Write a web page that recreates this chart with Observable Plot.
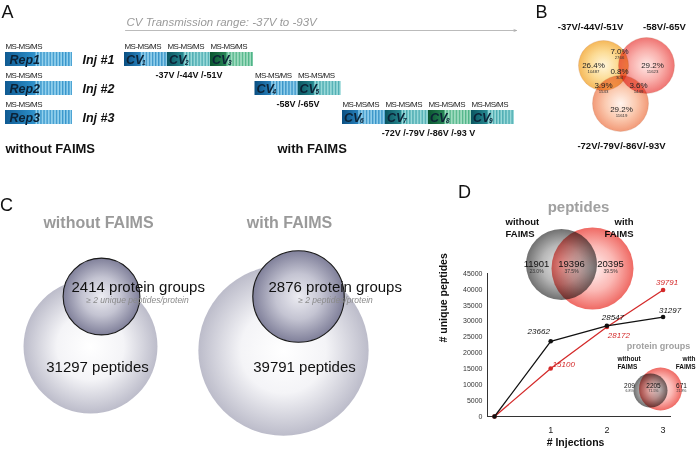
<!DOCTYPE html>
<html>
<head>
<meta charset="utf-8">
<script src="https://cdn.jsdelivr.net/npm/d3@7"></script>
<script src="https://cdn.jsdelivr.net/npm/@observablehq/plot@0.6"></script>
<style>
html,body{margin:0;padding:0;background:#fff;}
#fig{position:relative;width:696px;height:450px;overflow:hidden;background:#fff;}
#fig > svg{position:absolute;overflow:visible;}
</style>
</head>
<body>
<div id="fig"></div>
<script>
// ---------------- data ----------------
const panelLetters = ["A", "B", "C", "D"];
const replicates = ["Rep1", "Rep2", "Rep3"];
const injectionLabels = ["Inj #1", "Inj #2", "Inj #3"];
const cvCountPerInjection = [3, 2, 4];
const cvVoltageLabels = ["-37V /-44V /-51V", "-58V /-65V", "-72V /-79V /-86V /-93 V"];
const scanLabel = "MS-MS/MS";
const cvRangeLabel = "CV Transmission range: -37V to -93V";
const modeLabels = ["without FAIMS", "with FAIMS"];

const cvSetLabels = ["-37V/-44V/-51V", "-58V/-65V", "-72V/-79V/-86V/-93V"];
const cvRegions = ["A", "B", "C", "AB", "AC", "BC", "ABC"];
const cvRegionPercent = ["26.4%", "29.2%", "29.2%", "7.0%", "3.9%", "3.6%", "0.8%"];
const cvRegionCount = [10487, 11623, 11619, 2766, 1543, 1449, 304];

const proteinGroups = [2414, 2876];
const peptideTotals = [31297, 39791];
const proteinCriteria = ["≥ 2 unique peptides/protein", "≥ 2 peptides/protein"];

const injections = [0, 1, 2, 3];
const peptidesWithoutFAIMS = [0, 23662, 28547, 31297];
const peptidesWithFAIMS = [0, 15100, 28172, 39791];
const yTickValues = [0, 5000, 10000, 15000, 20000, 25000, 30000, 35000, 40000, 45000];
const xTickValues = [1, 2, 3];
const xAxisTitle = "# Injections";
const yAxisTitle = "# unique peptides";
const peptideOverlap = [11901, 19396, 20395];
const peptideOverlapPercent = ["23.0%", "37.5%", "39.5%"];
const proteinOverlap = [209, 2205, 671];
const proteinOverlapPercent = ["6.8%", "71.5%", "21.8%"];

// ---------------- layout / style ----------------
const FF = "'Liberation Sans', Arial, Helvetica, sans-serif";
const W = 696, H = 450;
const rowTop = [52, 81, 110], rowH = 14;
const pal = {
  rep:   {dark: "#0f5a92", mid: "#2b8cc6", light: "#92d0ec", line: "#3896cc"},
  blue:  {dark: "#0a4f82", mid: "#2a84bf", light: "#8fcdea", line: "#3b95c8"},
  teal:  {dark: "#0a5560", mid: "#2a8c94", light: "#98d8d8", line: "#4aaab0"},
  green: {dark: "#0a5530", mid: "#2a8858", light: "#a0dcc0", line: "#50b488"}
};
const cvPalByPos = ["blue", "teal", "green", "teal"];

const blocks = [];
replicates.forEach((r, i) => blocks.push({kind: "rep", label: r, sub: "", pal: "rep", x1: 5, x2: 72, row: i, split: 0.45}));
let nCV = 0;
const injSpan = [];
cvCountPerInjection.forEach((c, i) => {
  const start = 124 + nCV * 43 + i * 1.5;
  for (let j = 0; j < c; j++) {
    const x1 = 124 + nCV * 43 + i * 1.5;
    blocks.push({kind: "cv", label: "CV", sub: String(nCV + 1), pal: cvPalByPos[j], x1, x2: x1 + 43, row: i, split: 0.38});
    nCV++;
  }
  injSpan.push({x1: start, x2: start + c * 43, row: i});
});
blocks.forEach(b => { b.y1 = rowTop[b.row]; b.y2 = b.y1 + rowH; b.xs = b.x1 + (b.x2 - b.x1) * b.split; b.cy = b.y1 + rowH / 2; });

const txt = (data, o) => Plot.text(data, {fontFamily: FF, ...o});

// Panel B circles
const vennB = [
  {x: 603, y: 65, r: 25, g: "gY"},
  {x: 646, y: 65, r: 28, g: "gR"},
  {x: 620, y: 103, r: 28, g: "gO"}
];
const vennBText = {
  A: [593, 65], B: [652, 65], C: [621, 109], AB: [619, 51], AC: [603, 85], BC: [638, 85], ABC: [619, 71]
};
const vennBLabelPos = [[590, 26], [664, 26], [621, 145]];

// Panel C circles (radius proportional to value)
const cCenters = [{big: [90, 346], small: [101, 296], title: 98}, {big: [283, 350], small: [298, 296], title: 289}];
const bigCircles = peptideTotals.map((v, i) => ({x: cCenters[i].big[0], y: cCenters[i].big[1], r: v * 0.00214}));
const smallCircles = proteinGroups.map((v, i) => ({x: cCenters[i].small[0], y: cCenters[i].small[1], r: v * 0.0159}));

// Panel D venns
const pepVenn = [{x: 561, y: 264, r: 35.5, g: "gGray"}, {x: 592, y: 268, r: 41, g: "gPink"}];
const pepTextX = [536, 571, 610];
const protVenn = [{x: 650, y: 390, r: 17, g: "gGray"}, {x: 660, y: 388.5, r: 21.5, g: "gPink"}];
const protTextX = [629, 653, 681];

const letterPos = [[7, 12], [541, 12], [6, 205], [464, 192]];

const marks = [
  txt(panelLetters, {x: (d, i) => letterPos[i][0], y: (d, i) => letterPos[i][1], text: d => d, fontSize: 18, fill: "#111"}),
  // ---- Panel A ----
  Plot.arrow([cvRangeLabel], {x1: () => 125, y1: () => 30, x2: () => 516, y2: () => 30, stroke: "#aaa", strokeWidth: 0.8, headLength: 5, headAngle: 40}),
  txt([cvRangeLabel], {x: () => 126, y: () => 22, text: d => d, textAnchor: "start", fontStyle: "italic", fontSize: 11.5, fill: "#9a9a9a"}),
  ...Object.keys(pal).map(p => Plot.rect(blocks.filter(b => b.pal === p), {x1: "x1", x2: "x2", y1: "y1", y2: "y2", fill: `url(#grad-${p})`})),
  ...Object.keys(pal).map(p => Plot.rect(blocks.filter(b => b.pal === p), {x1: "xs", x2: "x2", y1: "y1", y2: "y2", fill: `url(#stripe-${p})`})),
  txt(blocks.filter(b => b.kind === "rep"), {x: d => d.x1 + 4, y: "cy", text: "label", textAnchor: "start", fontWeight: "bold", fontStyle: "italic", fontSize: 12.5, fill: "#0c2236"}),
  txt(blocks.filter(b => b.kind === "cv"), {x: d => d.x1 + 1.5, y: "cy", text: "label", textAnchor: "start", fontWeight: "bold", fontStyle: "italic", fontSize: 12.5, fill: "#0c2236"}),
  txt(blocks.filter(b => b.kind === "cv"), {x: d => d.x1 + 17.5, y: d => d.cy + 3.5, text: "sub", textAnchor: "start", fontWeight: "bold", fontStyle: "italic", fontSize: 6.5, fill: "#0c2236"}),
  txt(blocks, {x: "x1", y: d => d.y1 - 6, text: () => scanLabel, textAnchor: "start", fontSize: 8, fill: "#222"}),
  txt(injectionLabels, {x: () => 82, y: (d, i) => rowTop[i] + 7.5, text: d => d, textAnchor: "start", fontWeight: "bold", fontStyle: "italic", fontSize: 12.5, fill: "#111"}),
  txt(cvVoltageLabels, {x: (d, i) => (injSpan[i].x1 + injSpan[i].x2) / 2, y: (d, i) => rowTop[i] + rowH + 9, text: d => d, fontWeight: "bold", fontSize: 9, fill: "#111"}),
  txt(modeLabels, {x: (d, i) => [5, 277][i], y: () => 148, text: d => d, textAnchor: "start", fontWeight: "bold", fontSize: 13, fill: "#111"}),
  // ---- Panel B ----
  ...vennB.map(c => Plot.dot([c], {x: "x", y: "y", r: "r", fill: `url(#${c.g})`, stroke: "#c08060", strokeWidth: 0.4, strokeOpacity: 0.6, mixBlendMode: "multiply"})),
  txt(cvSetLabels, {x: (d, i) => vennBLabelPos[i][0], y: (d, i) => vennBLabelPos[i][1], text: d => d, fontWeight: "bold", fontSize: 9.5, fill: "#111"}),
  txt(cvRegions, {x: d => vennBText[d][0], y: d => vennBText[d][1], text: (d, i) => cvRegionPercent[i], fontSize: 8, fill: "#222"}),
  txt(cvRegions, {x: d => vennBText[d][0], y: d => vennBText[d][1] + 6.2, text: (d, i) => String(cvRegionCount[i]), fontSize: 4.3, fill: "#333"}),
  // ---- Panel C ----
  txt(modeLabels, {x: (d, i) => cCenters[i].title, y: () => 222, text: d => d, fontWeight: "bold", fontSize: 16, fill: "#9a9a9a"}),
  Plot.dot(bigCircles, {x: "x", y: "y", r: "r", fill: "url(#gBig)"}),
  Plot.dot(smallCircles, {x: "x", y: "y", r: "r", fill: "url(#gSmall)", stroke: "#1a1a1a", strokeWidth: 1.1}),
  txt(proteinGroups, {x: (d, i) => cCenters[i].small[0] - 30, y: () => 287, text: d => `${d} protein groups`, textAnchor: "start", fontSize: 15, fill: "#111"}),
  txt(proteinCriteria, {x: (d, i) => [137, 335][i], y: () => 300, text: d => d, fontStyle: "italic", fontSize: 8.5, fill: "#8a8a8a"}),
  txt(peptideTotals, {x: (d, i) => [97, 304][i], y: () => 367, text: d => `${d} peptides`, fontSize: 15, fill: "#111"}),
  // ---- Panel D venns ----
  txt(["peptides"], {x: () => 578, y: () => 207, text: d => d, fontWeight: "bold", fontSize: 15, fill: "#a0a0a0"}),
  txt([modeLabels[0]], {x: () => 505, y: () => 226.5, text: d => d.replace(" ", "\n"), textAnchor: "start", lineHeight: 1.3, fontWeight: "bold", fontSize: 9.5, fill: "#111"}),
  txt([modeLabels[1]], {x: () => 633, y: () => 226.5, text: d => d.replace(" ", "\n"), textAnchor: "end", lineHeight: 1.3, fontWeight: "bold", fontSize: 9.5, fill: "#111"}),
  ...pepVenn.map(c => Plot.dot([c], {x: "x", y: "y", r: "r", fill: `url(#${c.g})`, mixBlendMode: "multiply"})),
  txt(peptideOverlap, {x: (d, i) => pepTextX[i], y: () => 263, text: d => String(d), fontSize: 9.5, fill: "#111"}),
  txt(peptideOverlapPercent, {x: (d, i) => pepTextX[i], y: () => 270.5, text: d => d, fontSize: 5, fill: "#333"}),
  txt(["protein groups"], {x: () => 658, y: () => 346, text: d => d, fontWeight: "bold", fontSize: 9, fill: "#a0a0a0"}),
  txt([modeLabels[0]], {x: () => 617, y: () => 362, text: d => d.replace(" ", "\n"), textAnchor: "start", lineHeight: 1.25, fontWeight: "bold", fontSize: 6.5, fill: "#111"}),
  txt([modeLabels[1]], {x: () => 695, y: () => 362, text: d => d.replace(" ", "\n"), textAnchor: "end", lineHeight: 1.25, fontWeight: "bold", fontSize: 6.5, fill: "#111"}),
  ...protVenn.map(c => Plot.dot([c], {x: "x", y: "y", r: "r", fill: `url(#${c.g})`, mixBlendMode: "multiply"})),
  txt(proteinOverlap, {x: (d, i) => protTextX[i], y: () => 385, text: d => String(d), fontSize: 6.5, fill: "#111"}),
  txt(proteinOverlapPercent, {x: (d, i) => protTextX[i], y: () => 390.5, text: d => d, fontSize: 3.5, fill: "#333"})
];

const base = Plot.plot({
  width: W, height: H, margin: 0,
  x: {type: "identity", axis: null},
  y: {type: "identity", axis: null},
  r: {type: "identity"},
  style: {fontFamily: FF, background: "transparent"},
  marks
});

// gradients and patterns
const defs = d3.select(base).insert("defs", ":first-child");
function linear(id, stops) {
  const g = defs.append("linearGradient").attr("id", id).attr("x1", 0).attr("x2", 1).attr("y1", 0).attr("y2", 0);
  stops.forEach(([o, c]) => g.append("stop").attr("offset", o).attr("stop-color", c));
}
function radial(id, stops, cx = "50%", cy = "50%") {
  const g = defs.append("radialGradient").attr("id", id).attr("cx", cx).attr("cy", cy).attr("r", "50%");
  stops.forEach(([o, c, op]) => g.append("stop").attr("offset", o).attr("stop-color", c).attr("stop-opacity", op ?? 1));
}
Object.entries(pal).forEach(([k, p]) => {
  linear(`grad-${k}`, [[0, p.dark], [0.4, p.mid], [1, p.light]]);
  const pt = defs.append("pattern").attr("id", `stripe-${k}`).attr("patternUnits", "userSpaceOnUse").attr("width", 3.1).attr("height", 20);
  pt.append("rect").attr("width", 3.1).attr("height", 20).attr("fill", p.light);
  pt.append("rect").attr("width", 1.3).attr("height", 20).attr("fill", p.line);
});
radial("gY", [[0, "#fff6dc"], [0.55, "#fcdc96"], [1, "#f5b85a"]]);
radial("gR", [[0, "#ffe8e6"], [0.55, "#f9b0ac"], [1, "#ef7472"]]);
radial("gO", [[0, "#fff4ee"], [0.55, "#fbcab0"], [1, "#f29a78"]]);
radial("gBig", [[0, "#ffffff"], [0.5, "#f4f4f7"], [1, "#bcbcca"]]);
radial("gSmall", [[0, "#ececf2"], [0.5, "#c4c4d2"], [1, "#80809a"]]);
radial("gGray", [[0, "#e8e8e8"], [0.55, "#b8b8b8"], [1, "#707070"]]);
radial("gPink", [[0, "#fff2f2"], [0.55, "#fbb8b4"], [1, "#ef6a64"]]);

d3.select(base).selectAll("text").filter(function () { return this.textContent === scanLabel; })
  .attr("letter-spacing", "-0.55");

// ---------------- Panel D line chart ----------------
const xDomain = [-0.125, 3.15];
const yDomain = [0, 45000];
const pts = [
  ...injections.map((x, i) => ({series: "without", x, y: peptidesWithoutFAIMS[i]})),
  ...injections.map((x, i) => ({series: "with", x, y: peptidesWithFAIMS[i]}))
];
const lineColor = {without: "#111111", with: "#d42a2a"};
const labelOffset = {
  without: [null, [-12, -10], [6, -8.5], [7, -7]],
  with: [null, [13, -4], [12, 8], [4, -8]]
};
const labelMarks = pts.filter(p => p.x > 0).map(p => Plot.text([p], {
  x: "x", y: "y", text: d => String(d.y), dx: labelOffset[p.series][p.x][0], dy: labelOffset[p.series][p.x][1],
  fontFamily: FF, fontStyle: "italic", fontSize: 8, fill: lineColor[p.series]
}));

const chart = Plot.plot({
  width: 256, height: 188,
  marginLeft: 47, marginRight: 25, marginTop: 11, marginBottom: 34,
  x: {domain: xDomain, axis: null},
  y: {domain: yDomain, axis: null},
  style: {fontFamily: FF, background: "transparent", overflow: "visible"},
  marks: [
    Plot.ruleY([yDomain[0]], {x1: () => xDomain[0], x2: () => xDomain[1], stroke: "#333", strokeWidth: 1}),
    Plot.ruleX([xDomain[0]], {y1: () => yDomain[0], y2: () => yDomain[1], stroke: "#333", strokeWidth: 1}),
    Plot.axisY(yTickValues, {tickSize: 0, tickPadding: 5, tickFormat: d3.format("d"), fontSize: 7, label: null, fill: "#333"}),
    Plot.axisX(xTickValues, {tickSize: 0, tickPadding: 10, fontSize: 9, label: null, fill: "#222"}),
    Plot.line(pts.filter(p => p.series === "with"), {x: "x", y: "y", stroke: lineColor.with, strokeWidth: 1.3}),
    Plot.dot(pts.filter(p => p.series === "with"), {x: "x", y: "y", r: 2.3, fill: lineColor.with}),
    Plot.line(pts.filter(p => p.series === "without"), {x: "x", y: "y", stroke: lineColor.without, strokeWidth: 1.3}),
    Plot.dot(pts.filter(p => p.series === "without"), {x: "x", y: "y", r: 2.3, fill: lineColor.without}),
    ...labelMarks,
    Plot.text([xAxisTitle], {frameAnchor: "bottom", dx: -4, dy: 29, text: d => d, fontFamily: FF, fontWeight: "bold", fontSize: 10.5, fill: "#111"}),
    Plot.text([yAxisTitle], {frameAnchor: "left", rotate: -90, dx: -43.5, dy: -2.5, text: d => d, fontFamily: FF, fontWeight: "bold", fontSize: 10.5, fill: "#111"})
  ]
});

const fig = document.getElementById("fig");
base.style.left = "0px"; base.style.top = "0px";
chart.style.left = "440px"; chart.style.top = "262px";
fig.appendChild(base);
fig.appendChild(chart);
</script>
</body>
</html>
